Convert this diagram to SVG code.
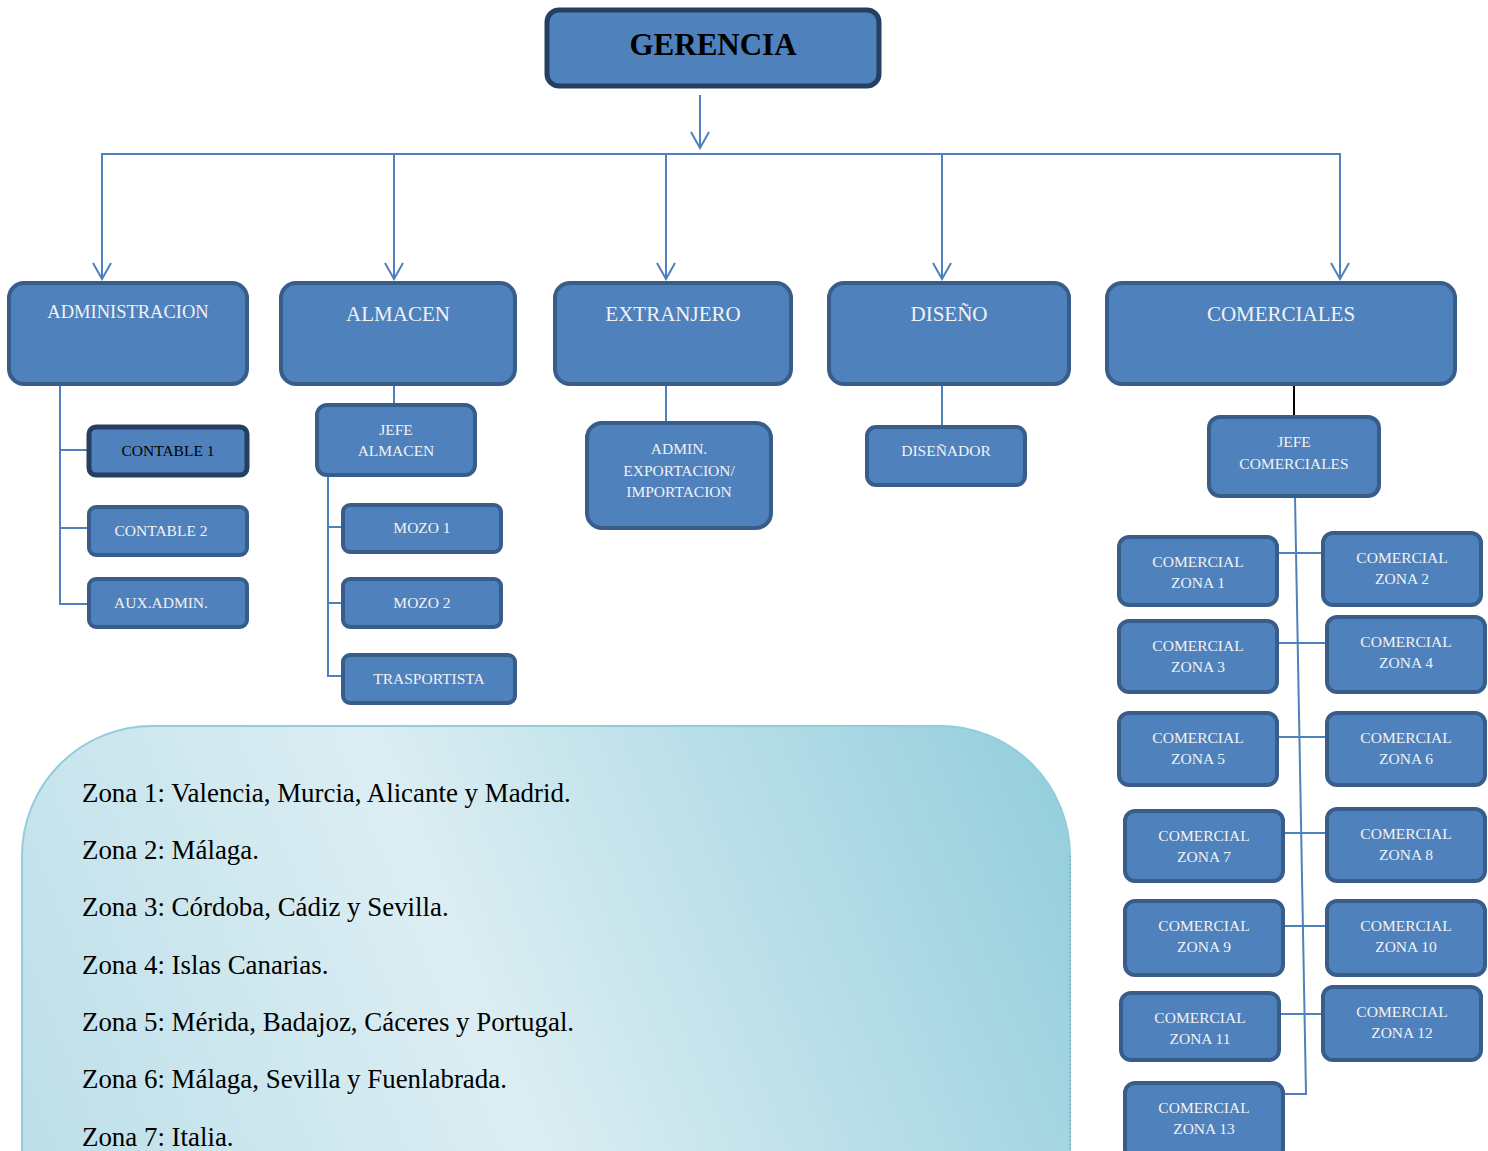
<svg xmlns="http://www.w3.org/2000/svg" width="1488" height="1151" viewBox="0 0 1488 1151">
  <style>
    .box { fill: #4F81BD; stroke: #385D8A; stroke-width: 4; }
    .dark { fill: #4F81BD; stroke: #243F60; stroke-width: 5; }
    .lbl { font-family: "Liberation Serif", "Times New Roman", serif; fill: #F2F2F2; text-anchor: middle; }
    .big { font-size: 21px; }
    .sm { font-size: 15.5px; }
    .line { fill: none; stroke: #4F81BD; stroke-width: 2; }
    .legend { font-family: "Liberation Serif", "Times New Roman", serif; font-size: 26.9px; fill: #000; }
  </style>
  <defs>
    <!-- open V arrowhead, drawn along the +x axis so orient="auto" points it down the line -->
    <marker id="open" viewBox="-18 -10 20 20" markerWidth="20" markerHeight="20" refX="0" refY="0" orient="auto" markerUnits="userSpaceOnUse">
      <path d="M-16,-9 L0,0 L-16,9" fill="none" stroke="#4F81BD" stroke-width="2"/>
    </marker>
    <linearGradient id="panelFill" gradientUnits="userSpaceOnUse" x1="1070" y1="726" x2="22" y2="1151">
      <stop offset="0" stop-color="#92CDDC"/>
      <stop offset="0.58" stop-color="#DCEEF3"/>
      <stop offset="1" stop-color="#BDDFE9"/>
    </linearGradient>
  </defs>

  <rect width="1488" height="1151" fill="#FFFFFF"/>

  <!-- zone legend panel -->
  <g id="zone-legend">
    <path d="M22,1151 L22,856 A130,130 0 0 1 152,726 L940,726 A130,130 0 0 1 1070,856 L1070,1151" fill="url(#panelFill)" stroke="#93CDDB" stroke-width="2"/>
    <line x1="1070" y1="856" x2="1070" y2="1151" stroke="#4A7F90" stroke-width="1" stroke-dasharray="1 3" opacity="0.7"/>
    <text class="legend" x="82" y="802">Zona 1: Valencia, Murcia, Alicante y Madrid.</text>
    <text class="legend" x="82" y="859">Zona 2: Málaga.</text>
    <text class="legend" x="82" y="916">Zona 3: Córdoba, Cádiz y Sevilla.</text>
    <text class="legend" x="82" y="974">Zona 4: Islas Canarias.</text>
    <text class="legend" x="82" y="1031">Zona 5: Mérida, Badajoz, Cáceres y Portugal.</text>
    <text class="legend" x="82" y="1088">Zona 6: Málaga, Sevilla y Fuenlabrada.</text>
    <text class="legend" x="82" y="1146">Zona 7: Italia.</text>
  </g>

  <!-- connectors -->
  <g id="connectors">
    <line class="line" x1="700" y1="95" x2="700" y2="148" marker-end="url(#open)"/>
    <line class="line" x1="101" y1="154" x2="1341" y2="154"/>
    <line class="line" x1="102" y1="154" x2="102" y2="279" marker-end="url(#open)"/>
    <line class="line" x1="394" y1="154" x2="394" y2="279" marker-end="url(#open)"/>
    <line class="line" x1="666" y1="154" x2="666" y2="279" marker-end="url(#open)"/>
    <line class="line" x1="942" y1="154" x2="942" y2="279" marker-end="url(#open)"/>
    <line class="line" x1="1340" y1="154" x2="1340" y2="279" marker-end="url(#open)"/>

    <!-- administracion -->
    <polyline class="line" points="60,385 60,604 90,604"/>
    <line class="line" x1="60" y1="450" x2="90" y2="450"/>
    <line class="line" x1="60" y1="528" x2="90" y2="528"/>

    <!-- almacen -->
    <line class="line" x1="394" y1="385" x2="394" y2="405"/>
    <polyline class="line" points="328,476 328,676 344,676"/>
    <line class="line" x1="328" y1="527" x2="344" y2="527"/>
    <line class="line" x1="328" y1="603" x2="344" y2="603"/>

    <!-- extranjero / diseño -->
    <line class="line" x1="666" y1="385" x2="666" y2="423"/>
    <line class="line" x1="942" y1="385" x2="942" y2="427"/>

    <!-- comerciales -->
    <line x1="1294" y1="384" x2="1294" y2="418" stroke="#000" stroke-width="2"/>
    <polyline class="line" points="1295,497 1306,1094 1283,1094"/>
    <line class="line" x1="1277" y1="553" x2="1323" y2="553"/>
    <line class="line" x1="1277" y1="643" x2="1327" y2="643"/>
    <line class="line" x1="1277" y1="737" x2="1327" y2="737"/>
    <line class="line" x1="1283" y1="833" x2="1327" y2="833"/>
    <line class="line" x1="1283" y1="926" x2="1327" y2="926"/>
    <line class="line" x1="1279" y1="1014" x2="1323" y2="1014"/>
  </g>

  <!-- top node -->
  <g id="gerencia">
    <rect class="dark" x="547" y="10" width="332" height="76" rx="12"/>
    <text x="713" y="55" font-family="'Liberation Serif', 'Times New Roman', serif" font-size="31" font-weight="bold" fill="#000" text-anchor="middle">GERENCIA</text>
  </g>

  <!-- departments -->
  <g id="administracion">
    <rect class="box" x="9" y="283" width="238" height="101" rx="15"/>
    <text class="lbl" x="128" y="318" font-size="18.5">ADMINISTRACION</text>
  </g>
  <g id="almacen">
    <rect class="box" x="281" y="283" width="234" height="101" rx="15"/>
    <text class="lbl big" x="398" y="321">ALMACEN</text>
  </g>
  <g id="extranjero">
    <rect class="box" x="555" y="283" width="236" height="101" rx="15"/>
    <text class="lbl big" x="673" y="321">EXTRANJERO</text>
  </g>
  <g id="diseno">
    <rect class="box" x="829" y="283" width="240" height="101" rx="15"/>
    <text class="lbl big" x="949" y="321">DISEÑO</text>
  </g>
  <g id="comerciales">
    <rect class="box" x="1107" y="283" width="348" height="101" rx="15"/>
    <text class="lbl big" x="1281" y="321">COMERCIALES</text>
  </g>

  <!-- administracion staff -->
  <g id="contable-1">
    <rect class="dark" x="89" y="427" width="158" height="48" rx="7"/>
    <text class="lbl sm" x="168" y="456" style="fill:#000">CONTABLE 1</text>
  </g>
  <g id="contable-2">
    <rect class="box" x="89" y="507" width="158" height="48" rx="7"/>
    <text class="lbl sm" x="161" y="536">CONTABLE 2</text>
  </g>
  <g id="aux-admin">
    <rect class="box" x="89" y="579" width="158" height="48" rx="7"/>
    <text class="lbl sm" x="161" y="608">AUX.ADMIN.</text>
  </g>

  <!-- almacen staff -->
  <g id="jefe-almacen">
    <rect class="box" x="317" y="405" width="158" height="70" rx="10"/>
    <text class="lbl sm" x="396" y="435">JEFE</text>
    <text class="lbl sm" x="396" y="456">ALMACEN</text>
  </g>
  <g id="mozo-1">
    <rect class="box" x="343" y="505" width="158" height="47" rx="7"/>
    <text class="lbl sm" x="422" y="533">MOZO 1</text>
  </g>
  <g id="mozo-2">
    <rect class="box" x="343" y="579" width="158" height="48" rx="7"/>
    <text class="lbl sm" x="422" y="608">MOZO 2</text>
  </g>
  <g id="trasportista">
    <rect class="box" x="343" y="655" width="172" height="48" rx="7"/>
    <text class="lbl sm" x="429" y="684">TRASPORTISTA</text>
  </g>

  <!-- extranjero staff -->
  <g id="admin-export">
    <rect class="box" x="587" y="423" width="184" height="105" rx="15"/>
    <text class="lbl sm" x="679" y="454">ADMIN.</text>
    <text class="lbl sm" x="679" y="476">EXPORTACION/</text>
    <text class="lbl sm" x="679" y="497">IMPORTACION</text>
  </g>

  <!-- diseño staff -->
  <g id="disenador">
    <rect class="box" x="867" y="427" width="158" height="58" rx="9"/>
    <text class="lbl sm" x="946" y="456">DISEÑADOR</text>
  </g>

  <!-- comerciales staff -->
  <g id="jefe-comerciales">
    <rect class="box" x="1209" y="417" width="170" height="79" rx="11"/>
    <text class="lbl sm" x="1294" y="447">JEFE</text>
    <text class="lbl sm" x="1294" y="469">COMERCIALES</text>
  </g>
  <g id="zona-1">
    <rect class="box" x="1119" y="537" width="158" height="68" rx="10"/>
    <text class="lbl sm" x="1198" y="567">COMERCIAL</text>
    <text class="lbl sm" x="1198" y="588">ZONA 1</text>
  </g>
  <g id="zona-2">
    <rect class="box" x="1323" y="533" width="158" height="72" rx="10"/>
    <text class="lbl sm" x="1402" y="563">COMERCIAL</text>
    <text class="lbl sm" x="1402" y="584">ZONA 2</text>
  </g>
  <g id="zona-3">
    <rect class="box" x="1119" y="621" width="158" height="71" rx="10"/>
    <text class="lbl sm" x="1198" y="651">COMERCIAL</text>
    <text class="lbl sm" x="1198" y="672">ZONA 3</text>
  </g>
  <g id="zona-4">
    <rect class="box" x="1327" y="617" width="158" height="75" rx="10"/>
    <text class="lbl sm" x="1406" y="647">COMERCIAL</text>
    <text class="lbl sm" x="1406" y="668">ZONA 4</text>
  </g>
  <g id="zona-5">
    <rect class="box" x="1119" y="713" width="158" height="72" rx="10"/>
    <text class="lbl sm" x="1198" y="743">COMERCIAL</text>
    <text class="lbl sm" x="1198" y="764">ZONA 5</text>
  </g>
  <g id="zona-6">
    <rect class="box" x="1327" y="713" width="158" height="72" rx="10"/>
    <text class="lbl sm" x="1406" y="743">COMERCIAL</text>
    <text class="lbl sm" x="1406" y="764">ZONA 6</text>
  </g>
  <g id="zona-7">
    <rect class="box" x="1125" y="811" width="158" height="70" rx="10"/>
    <text class="lbl sm" x="1204" y="841">COMERCIAL</text>
    <text class="lbl sm" x="1204" y="862">ZONA 7</text>
  </g>
  <g id="zona-8">
    <rect class="box" x="1327" y="809" width="158" height="72" rx="10"/>
    <text class="lbl sm" x="1406" y="839">COMERCIAL</text>
    <text class="lbl sm" x="1406" y="860">ZONA 8</text>
  </g>
  <g id="zona-9">
    <rect class="box" x="1125" y="901" width="158" height="74" rx="10"/>
    <text class="lbl sm" x="1204" y="931">COMERCIAL</text>
    <text class="lbl sm" x="1204" y="952">ZONA 9</text>
  </g>
  <g id="zona-10">
    <rect class="box" x="1327" y="901" width="158" height="74" rx="10"/>
    <text class="lbl sm" x="1406" y="931">COMERCIAL</text>
    <text class="lbl sm" x="1406" y="952">ZONA 10</text>
  </g>
  <g id="zona-11">
    <rect class="box" x="1121" y="993" width="158" height="67" rx="10"/>
    <text class="lbl sm" x="1200" y="1023">COMERCIAL</text>
    <text class="lbl sm" x="1200" y="1044">ZONA 11</text>
  </g>
  <g id="zona-12">
    <rect class="box" x="1323" y="987" width="158" height="73" rx="10"/>
    <text class="lbl sm" x="1402" y="1017">COMERCIAL</text>
    <text class="lbl sm" x="1402" y="1038">ZONA 12</text>
  </g>
  <g id="zona-13">
    <rect class="box" x="1125" y="1083" width="158" height="76" rx="10"/>
    <text class="lbl sm" x="1204" y="1134">ZONA 13</text>
    <text class="lbl sm" x="1204" y="1113">COMERCIAL</text>
  </g>
</svg>
